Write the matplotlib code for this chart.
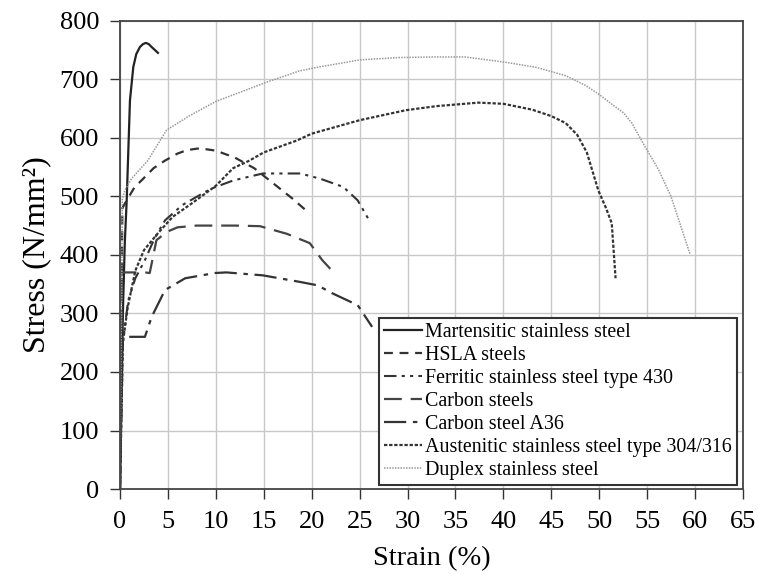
import matplotlib
matplotlib.use('Agg')
import matplotlib.pyplot as plt

plt.rcParams['font.family'] = ['Liberation Serif', 'DejaVu Serif']

# valori (deformazione %, tensione N/mm2)
mart_x = [0, 0.3, 0.5, 0.7, 1.04, 1.39, 1.7, 2.08, 2.4, 2.7, 3.0, 3.3, 3.96]
mart_y = [0, 300, 420, 493, 664, 721, 743, 755, 760, 762, 760, 755, 745]

hsla_x = [0, 0.25, 0.7, 1.5, 2.6, 3.5, 4.7, 6, 7, 8.3, 10, 12, 14, 16, 18, 19.4]
hsla_y = [0, 480, 493, 515, 533, 548, 561, 573, 579, 582, 578, 566, 548, 522, 496, 476]

ferr_x = [0, 0.3, 0.85, 1.6, 2.6, 3.6, 4.7, 6.5, 8.3, 9.5, 11.8, 14.9, 18.8, 20.9, 23.3, 24.8, 26.1]
ferr_y = [0, 250, 322, 360, 391, 428, 459, 485, 502, 513, 527, 539, 539, 530, 516, 493, 456]

carb_x = [0, 0.2, 0.5, 2.6, 3.1, 3.8, 4.85, 6, 8, 12, 14.6, 17.4, 19.8, 21.1, 22.4]
carb_y = [0, 370, 370, 370, 369, 425, 439, 447, 450, 450, 449, 436, 420, 391, 368]

a36_x = [0, 0.15, 0.4, 2.6, 3.3, 4.7, 6.8, 9.9, 11.1, 14.9, 18.7, 20.6, 22.2, 24.8, 26.3]
a36_y = [0, 260, 260, 260, 294, 340, 360, 369, 370, 365, 354, 348, 334, 314, 277]

aust_x = [0, 0.3, 0.8, 1.6, 2.5, 3.96, 5.5, 7.5, 10, 11.8, 13.5, 15, 18.4, 20, 25, 29.8, 33, 37.4, 40, 43, 45,
          46.5, 47.7, 48.7, 49.9, 50.7, 51.3, 51.7]
aust_y = [0, 250, 310, 373, 408, 437, 465, 488, 518, 548, 561, 575, 595, 607, 630, 647, 654, 660, 658, 648, 637,
          625, 605, 575, 510, 480, 454, 360]

dup_x = [0, 0.25, 0.5, 1.2, 2.9, 4.85, 7.3, 10, 15.3, 18.7, 20.8, 25, 29.1, 33, 36, 40.2, 43.5, 46.5, 48.5,
         49.9, 51.5, 52.5, 53.4, 54.8, 56.2, 57.5, 59.45]
dup_y = [0, 495, 510, 530, 561, 613, 638, 662, 695, 714, 721, 733, 737, 738, 738, 729, 720, 706, 690,
         675, 655, 643, 625, 584, 545, 499, 402]

nazwy = ['Martensitic stainless steel', 'HSLA steels', 'Ferritic stainless steel type 430', 'Carbon steels',
         'Carbon steel A36', 'Austenitic stainless steel type 304/316', 'Duplex stainless steel']

fig = plt.figure(figsize=(7.58, 5.74), dpi=100)
ax = fig.add_axes([0.1583, 0.148, 0.822, 0.816])

ax.plot(mart_x, mart_y, color='#222222', lw=1.6, ls='-', label=nazwy[0])
ax.plot(hsla_x, hsla_y, color='#333333', lw=1.6, ls=(0, (4, 3)), label=nazwy[1])
ax.plot(ferr_x, ferr_y, color='#333333', lw=1.5, ls=(0, (6, 2.5, 1.5, 2.5, 1.5, 2.5)), label=nazwy[2])
ax.plot(carb_x, carb_y, color='#444444', lw=1.6, ls=(0, (8, 4)), label=nazwy[3])
ax.plot(a36_x, a36_y, color='#333333', lw=1.6, ls=(0, (10, 3, 2, 3)), label=nazwy[4])
ax.plot(aust_x, aust_y, color='#333333', lw=1.6, ls=(0, (1.5, 0.8)), label=nazwy[5])
ax.plot(dup_x, dup_y, color='#999999', lw=1.1, ls=(0, (1, 0.8)), label=nazwy[6])

ax.set_xlim(0, 65)
ax.set_ylim(0, 800)
ax.set_xticks(range(0, 66, 5))
ax.set_yticks(range(0, 801, 100))
ax.grid(True, color='#c8c8c8', lw=1)
ax.set_axisbelow(True)
ax.tick_params(direction='out', length=7, width=1, colors='#333333', labelsize=19, labelcolor='black')
ax.tick_params(axis='x', pad=9)
ax.tick_params(axis='y', pad=8)
for s in ax.spines.values():
    s.set_color('#444444')
    s.set_linewidth(1.3)

ax.set_xlabel('Strain (%)', fontsize=20.5, labelpad=9)
ax.set_ylabel('Stress (N/mm²)', fontsize=23, labelpad=6)

leg = ax.legend(loc='lower right', bbox_to_anchor=(0.99, 0.008), fontsize=14.4, frameon=True, fancybox=False,
                handlelength=1.9, handletextpad=0.15, borderpad=0.25, labelspacing=0.2, borderaxespad=0)
leg.get_frame().set_edgecolor('#333333')
leg.get_frame().set_linewidth(1.5)
leg.get_frame().set_alpha(1)

plt.savefig('out.png', dpi=100)
